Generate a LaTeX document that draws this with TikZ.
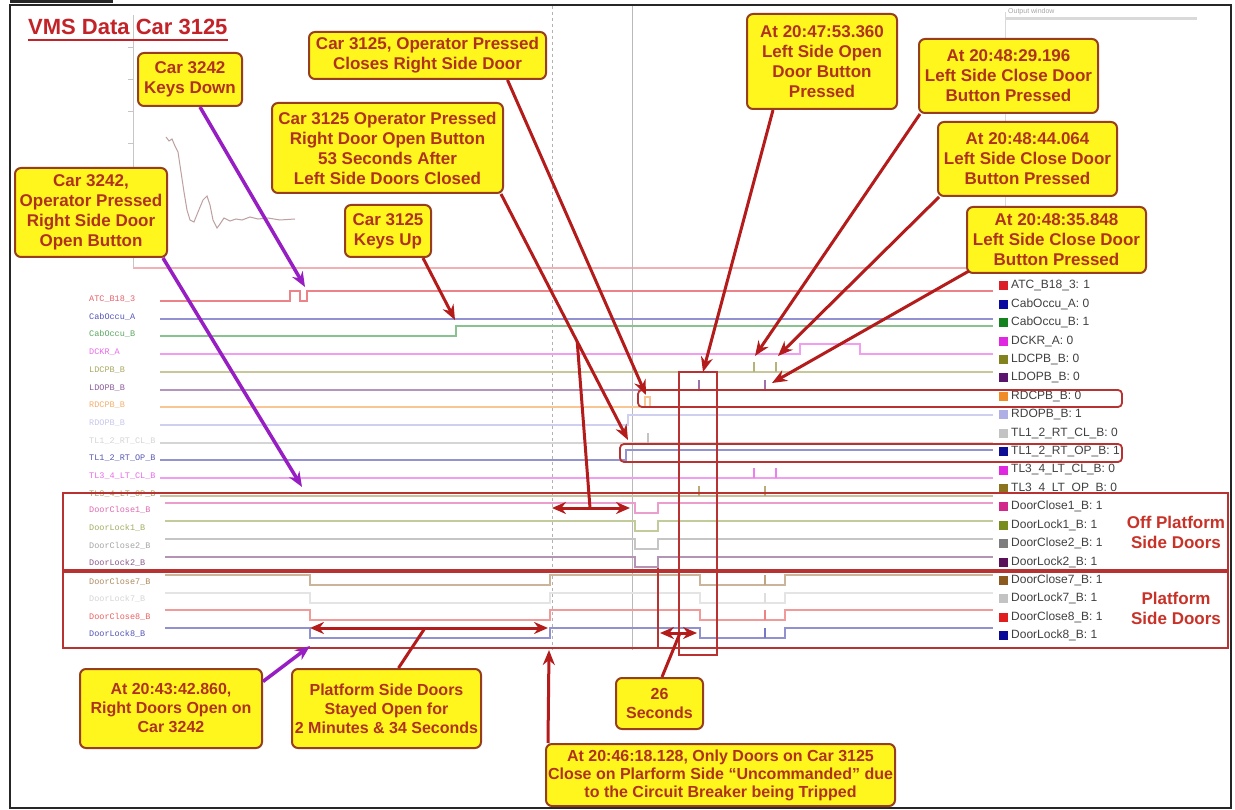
\documentclass[tikz,border=0pt]{standalone}
\usepackage{fontspec}
\setmainfont{Liberation Sans}
\newfontfamily\sigfont{Liberation Mono}
\usetikzlibrary{arrows.meta,calc}

% callout and annotation colours
\definecolor{boxfill}{RGB}{255,246,30}
\definecolor{boxedge}{RGB}{150,62,30}
\definecolor{boxtext}{RGB}{175,50,30}
\definecolor{arrowred}{RGB}{180,28,28}
\definecolor{arrowpurple}{RGB}{150,30,195}
\definecolor{framered}{RGB}{185,50,50}
\definecolor{titlered}{RGB}{195,35,40}
\definecolor{sidered}{RGB}{200,50,40}
\definecolor{curvegray}{RGB}{190,160,160}
% signal colours
\definecolor{c0}{RGB}{220,30,40}
\definecolor{c1}{RGB}{10,10,160}
\definecolor{c2}{RGB}{20,130,30}
\definecolor{c3}{RGB}{225,40,225}
\definecolor{c4}{RGB}{130,130,30}
\definecolor{c5}{RGB}{90,20,110}
\definecolor{c6}{RGB}{240,140,40}
\definecolor{c7}{RGB}{175,175,230}
\definecolor{c8}{RGB}{195,195,195}
\definecolor{c9}{RGB}{15,15,150}
\definecolor{c10}{RGB}{225,40,225}
\definecolor{c11}{RGB}{140,115,30}
\definecolor{c12}{RGB}{210,40,140}
\definecolor{c13}{RGB}{120,140,30}
\definecolor{c14}{RGB}{125,125,125}
\definecolor{c15}{RGB}{90,15,90}
\definecolor{c16}{RGB}{140,90,30}
\definecolor{c17}{RGB}{195,195,195}
\definecolor{c18}{RGB}{225,30,30}
\definecolor{c19}{RGB}{10,10,150}

\tikzset{
  callout/.style={draw=boxedge, line width=2pt, fill=boxfill, rounded corners=6pt,
    text=boxtext, font=\fontsize{17}{20}\selectfont\bfseries, align=center, inner sep=2pt},
  callsmall/.style={callout, font=\fontsize{16}{19}\selectfont\bfseries},
  redarrow/.style={draw=arrowred, line width=3pt, -{Stealth[length=15pt,width=12pt]}},
  redline/.style={draw=arrowred, line width=3pt},
  purplearrow/.style={draw=arrowpurple, line width=3.5pt, -{Stealth[length=15pt,width=12pt]}},
  dblarrow/.style={draw=arrowred, line width=3pt,
    {Stealth[length=14pt,width=12pt]}-{Stealth[length=14pt,width=12pt]}},
  wave/.style={line width=1.3pt},
  tickmark/.style={line width=1.1pt},
  siglabel/.style={anchor=west, inner sep=0pt, font=\sigfont\fontsize{8.5}{9}\selectfont},
  legendtext/.style={anchor=west, inner sep=0pt, text=black!75, font=\fontsize{12}{13}\selectfont},
  sidetext/.style={align=center, text=sidered, inner sep=0pt, font=\fontsize{17}{20}\selectfont\bfseries},
  groupbox/.style={draw=framered, line width=2.5pt},
  rowbox/.style={draw=framered, line width=1.8pt, rounded corners=4pt},
}

\begin{document}
\begin{tikzpicture}[x=1pt, y=-1pt]
\useasboundingbox (0,0) rectangle (1235,810);
\fill[white] (0,0) rectangle (1235,810);

% screenshot frame
\fill[black!85] (10,0) rectangle (113,3);
\draw[black!85, line width=2pt] (10,5) rectangle (1231,808);

% faint analogue chart behind the traces
\draw[gray!45, line width=0.8pt] (133,15) -- (133,268);
\foreach \ty in {47,79,111,143,175,207,239}
  \draw[gray!45, line width=0.8pt] (128,\ty) -- (133,\ty);
\draw[curvegray, line width=1pt] (166,137) -- (169,141) -- (172,139) -- (175,146) -- (178,152)
  -- (181,172) -- (184,192) -- (187,210) -- (190,220) -- (194,222) -- (198,212) -- (203,200)
  -- (207,196) -- (210,205) -- (213,220) -- (217,228) -- (220,224) -- (224,218) -- (230,221)
  -- (236,219) -- (242,220) -- (250,217) -- (258,219) -- (268,218) -- (280,220) -- (295,219);
\draw[c0!35, line width=1.2pt] (133,268) -- (993,268);

% output window pane
\node[anchor=west, inner sep=0pt, text=gray!70, font=\fontsize{7}{8}\selectfont] (outwin) at (1008,12) {Output window};
\draw[gray!30, line width=3pt] (1005,19) -- (1197,19);
\draw[gray!30, line width=0.8pt] (1005,12) -- (1005,268);

% cursors
\draw[gray!60, line width=1pt, dashed] (552,6) -- (552,650);
\draw[gray!55, line width=1pt] (632,6) -- (632,650);

% title
\node[anchor=base west, inner sep=0pt, text=titlered, font=\fontsize{22}{24}\selectfont\bfseries] (title) at (28,35) {VMS Data Car 3125};
\draw[titlered, line width=2pt] ([yshift=-5pt]title.base west) -- ([yshift=-5pt]title.base east);

% signal names
\foreach \i/\col/\yy/\txt in {
  0/c0/299/ATC\_B18\_3, 1/c1/317/CabOccu\_A, 2/c2/334/CabOccu\_B, 3/c3/352/DCKR\_A,
  4/c4/370/LDCPB\_B, 5/c5/388/LDOPB\_B, 6/c6/405/RDCPB\_B, 7/c7/423/RDOPB\_B,
  8/c8/441/TL1\_2\_RT\_CL\_B, 9/c9/458/TL1\_2\_RT\_OP\_B, 10/c10/476/TL3\_4\_LT\_CL\_B,
  11/c11/494/TL3\_4\_LT\_OP\_B, 12/c12/510/DoorClose1\_B, 13/c13/528/DoorLock1\_B,
  14/c14/546/DoorClose2\_B, 15/c15/563/DoorLock2\_B, 16/c16/582/DoorClose7\_B,
  17/c17/599/DoorLock7\_B, 18/c18/617/DoorClose8\_B, 19/c19/634/DoorLock8\_B}
  \node[siglabel, text=\col!70] (sl\i) at (89,\yy) {\txt};

% digital traces
\draw[wave, c0!55] (160,301) -- (290,301) -- (290,291) -- (300,291) -- (300,301) -- (307,301) -- (307,291) -- (993,291);
\draw[wave, c1!45] (160,319) -- (993,319);
\draw[wave, c2!50] (160,336) -- (456,336) -- (456,326) -- (993,326);
\draw[wave, c3!45] (160,354) -- (800,354) -- (800,344) -- (860,344) -- (860,354) -- (993,354);
\draw[wave, c4!45] (160,372) -- (993,372);
\draw[tickmark, c4!60] (754,372) -- (754,362) (776,372) -- (776,362);
\draw[wave, c5!45] (160,390) -- (993,390);
\draw[tickmark, c5!60] (699,390) -- (699,380) (765,390) -- (765,380);
\draw[wave, c6!50] (160,407) -- (645,407) -- (645,397) -- (650,397) -- (650,407) -- (993,407);
\draw[wave, c7!60] (160,425) -- (628,425) -- (628,415) -- (993,415);
\draw[wave, c8!70] (160,443) -- (993,443);
\draw[tickmark, c8] (648,443) -- (648,433);
\draw[wave, c9!45] (160,460) -- (626,460) -- (626,450) -- (993,450);
\draw[wave, c10!45] (160,478) -- (993,478);
\draw[tickmark, c10!60] (754,478) -- (754,468) (776,478) -- (776,468);
\draw[wave, c11!45] (160,496) -- (993,496);
\draw[tickmark, c11!60] (699,496) -- (699,486) (765,496) -- (765,486);
% off platform side doors
\foreach \col/\h in {c12/503, c13/521, c14/539, c15/557}
  \draw[wave, \col!45] (165,\h) -- (635,\h) -- (635,{\h+10}) -- (658,{\h+10}) -- (658,\h) -- (993,\h);
% platform side doors
\foreach \col/\h in {c16/575, c17/593, c18/610, c19/628} {
  \draw[wave, \col!45] (165,\h) -- (310,\h) -- (310,{\h+10}) -- (550,{\h+10}) -- (550,\h)
    -- (700,\h) -- (700,{\h+10}) -- (785,{\h+10}) -- (785,\h) -- (993,\h);
  \draw[tickmark, \col!55] (765,{\h+10}) -- (765,\h);
}

% legend
\foreach \i/\col/\txt in {
  0/c0/ATC\_B18\_3: 1, 1/c1/CabOccu\_A: 0, 2/c2/CabOccu\_B: 1, 3/c3/DCKR\_A: 0,
  4/c4/LDCPB\_B: 0, 5/c5/LDOPB\_B: 0, 6/c6/RDCPB\_B: 0, 7/c7/RDOPB\_B: 1,
  8/c8/TL1\_2\_RT\_CL\_B: 0, 9/c9/TL1\_2\_RT\_OP\_B: 1, 10/c10/TL3\_4\_LT\_CL\_B: 0,
  11/c11/TL3\_4\_LT\_OP\_B: 0, 12/c12/DoorClose1\_B: 1, 13/c13/DoorLock1\_B: 1,
  14/c14/DoorClose2\_B: 1, 15/c15/DoorLock2\_B: 1, 16/c16/DoorClose7\_B: 1,
  17/c17/DoorLock7\_B: 1, 18/c18/DoorClose8\_B: 1, 19/c19/DoorLock8\_B: 1} {
  \fill[\col] (999,{286+18.4*\i-4.5}) rectangle ++(9,9);
  \node[legendtext] (lg\i) at (1011,{286+18.4*\i}) {\txt};
}

% highlighted rows and door groups
\draw[rowbox] (638,390) rectangle (1122,407);
\draw[rowbox] (620,444) rectangle (1122,462);
\draw[groupbox] (63,493) rectangle (1228,570);
\draw[groupbox] (63,572) rectangle (1228,648);
\draw[framered, line width=2pt] (679,372) rectangle (717,655);
\draw[framered, line width=2pt] (658,568) -- (658,648);
\node[sidetext] (offside) at (1176,532) {Off Platform\\Side Doors};
\node[sidetext] (onside) at (1176,608) {Platform\\Side Doors};

% event points on the traces
\coordinate (tKeysDown) at (305,287);
\coordinate (tOpBtn) at (302,487);
\coordinate (tCloseRight) at (646,395);
\coordinate (tOpen53) at (628,440);
\coordinate (tKeysUp) at (455,320);
\coordinate (tLeftOpen) at (703,372);
\coordinate (tClose29) at (755,356);
\coordinate (tClose44) at (778,356);
\coordinate (tClose35) at (772,383);
\coordinate (tDoorsOpen) at (310,646);
\coordinate (tUncmd) at (549,650);
\coordinate (gapL) at (552,508);
\coordinate (gapR) at (630,508);
\coordinate (gapMid) at (590,508);
\coordinate (openL) at (310,628);
\coordinate (openR) at (548,628);
\coordinate (openMid) at (425,628);
\coordinate (secL) at (660,633);
\coordinate (secR) at (697,633);
\coordinate (secMid) at (680,633);

% callouts
\node[callout, minimum width=104pt, minimum height=53pt] (kd) at (190,79.5) {Car 3242\\Keys Down};
\node[callout, minimum width=152pt, minimum height=89pt] (op) at (91,212.5) {Car 3242,\\Operator Pressed\\Right Side Door\\Open Button};
\node[callout, minimum width=237pt, minimum height=47pt] (cr) at (427.5,55.5) {Car 3125, Operator Pressed\\Closes Right Side Door};
\node[callout, minimum width=231pt, minimum height=90pt] (o53) at (387.5,148) {Car 3125 Operator Pressed\\Right Door Open Button\\53 Seconds After\\Left Side Doors Closed};
\node[callout, minimum width=86pt, minimum height=52pt] (ku) at (388,231) {Car 3125\\Keys Up};
\node[callout, minimum width=150pt, minimum height=95pt] (t47) at (822,61.5) {At 20:47:53.360\\Left Side Open\\Door Button\\Pressed};
\node[callout, minimum width=179pt, minimum height=74pt] (t29) at (1008.5,76) {At 20:48:29.196\\Left Side Close Door\\Button Pressed};
\node[callout, minimum width=179pt, minimum height=74pt] (t44) at (1027.5,159) {At 20:48:44.064\\Left Side Close Door\\Button Pressed};
\node[callout, minimum width=179pt, minimum height=66pt] (t35) at (1056.5,240) {At 20:48:35.848\\Left Side Close Door\\Button Pressed};
\node[callsmall, minimum width=182pt, minimum height=79pt] (t42) at (171,708.5) {At 20:43:42.860,\\Right Doors Open on\\Car 3242};
\node[callsmall, minimum width=189pt, minimum height=79pt] (st) at (386.5,708.5) {Platform Side Doors\\Stayed Open for\\2 Minutes \& 34 Seconds};
\node[callsmall, minimum width=87pt, minimum height=51pt] (s26) at (659.5,703.5) {26\\Seconds};
\node[callsmall, minimum width=349pt, minimum height=62pt, font=\fontsize{16}{18}\selectfont\bfseries] (bt) at (720.5,775) {At 20:46:18.128, Only Doors on Car 3125\\Close on Plarform Side ``Uncommanded'' due\\to the Circuit Breaker being Tripped};

% connectors
\draw[purplearrow] ([xshift=10pt]kd.south) -- (tKeysDown);
\draw[purplearrow] ([xshift=-5pt]op.south east) -- (tOpBtn);
\draw[redarrow] ([xshift=80pt]cr.south) -- (tCloseRight);
\draw[redarrow] ([xshift=-3pt]o53.south east) -- (tOpen53);
\coordinate (jOpen53) at ($([xshift=-3pt]o53.south east)!0.6!(tOpen53)$);
\draw[redline] (jOpen53) -- (gapMid);
\draw[redarrow] ([xshift=35pt]ku.south) -- (tKeysUp);
\draw[redarrow] ([xshift=-49pt]t47.south) -- (tLeftOpen);
\draw[redarrow] ([xshift=2pt]t29.south west) -- (tClose29);
\draw[redarrow] ([xshift=2pt]t44.south west) -- (tClose44);
\draw[redarrow] ([xshift=3pt,yshift=3pt]t35.south west) -- (tClose35);
\draw[purplearrow] ([yshift=27pt]t42.east) -- (tDoorsOpen);
\draw[redline] ([xshift=12pt]st.north) -- (openMid);
\draw[redarrow] ([xshift=3pt]bt.north west) -- (tUncmd);
\draw[redline] ([xshift=2.5pt]s26.north) -- (secMid);
\draw[dblarrow] (gapL) -- (gapR);
\draw[dblarrow] (openL) -- (openR);
\draw[dblarrow] (secL) -- (secR);
\end{tikzpicture}
\end{document}
